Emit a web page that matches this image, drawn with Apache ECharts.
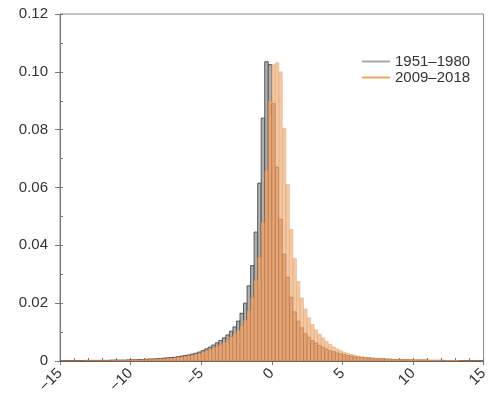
<!DOCTYPE html>
<html>
<head>
<meta charset="utf-8">
<script src="https://cdn.jsdelivr.net/npm/echarts@6/dist/echarts.min.js"></script>
<style>
html,body{margin:0;padding:0;background:#fff;}
#chart{width:491px;height:400px;}
</style>
</head>
<body>
<div id="chart"></div>
<script>
// Histogram bins: start at -15, width 0.25, 120 bins to +15
const binStart = -15;
const binWidth = 0.25;
const seriesNames = ['1951\u20131980', '2009\u20132018'];
const xTickValues = [-15, -10, -5, 0, 5, 10, 15];
const xTickLabels = ['\u221215', '\u221210', '\u22125', '0', '5', '10', '15'];
const yTickValues = [0, 0.02, 0.04, 0.06, 0.08, 0.10, 0.12];
const yTickLabels = ['0', '0.02', '0.04', '0.06', '0.08', '0.10', '0.12'];

const gray1951 = [
  0.0001,0.0001,0.0001,0.0001, 0.0001,0.0001,0.0001,0.0002, 0.0002,0.0002,0.0002,0.0002,
  0.0002,0.0002,0.0003,0.0003, 0.0003,0.0003,0.0003,0.0004, 0.0004,0.0004,0.0005,0.0005,
  0.0006,0.0007,0.0007,0.0008, 0.0009,0.0010,0.0011,0.0012, 0.0013,0.0015,0.0017,0.0019,
  0.0021,0.0024,0.0027,0.0031, 0.0036,0.0042,0.0048,0.0055, 0.0063,0.0071,0.0080,0.0090,
  0.0103,0.0118,0.0138,0.0165, 0.0200,0.0260,0.0330,0.0446, 0.0615,0.0840,0.1035,0.1025,
  0.0890,0.0670,0.0490,0.0370, 0.0290,0.0220,0.0170,0.0138, 0.0115,0.0095,0.0082,0.0071,
  0.0062,0.0054,0.0047,0.0041, 0.0036,0.0032,0.0028,0.0025, 0.0022,0.0019,0.0017,0.0015,
  0.0013,0.0012,0.0011,0.0010, 0.0009,0.0008,0.0007,0.0007, 0.0006,0.0006,0.0005,0.0005,
  0.0004,0.0004,0.0004,0.0004, 0.0003,0.0003,0.0003,0.0003, 0.0002,0.0002,0.0002,0.0002,
  0.0002,0.0001,0.0001,0.0001, 0.0001,0.0001,0.0001,0.0001, 0.0001,0.0001,0.0001,0.0001
];

const orange2009 = [
  0.0001,0.0001,0.0001,0.0001, 0.0001,0.0001,0.0001,0.0002, 0.0002,0.0002,0.0002,0.0002,
  0.0002,0.0002,0.0002,0.0003, 0.0003,0.0003,0.0003,0.0003, 0.0004,0.0004,0.0004,0.0005,
  0.0005,0.0006,0.0006,0.0007, 0.0008,0.0008,0.0009,0.0010, 0.0011,0.0013,0.0014,0.0016,
  0.0018,0.0020,0.0023,0.0026, 0.0032,0.0036,0.0041,0.0046, 0.0052,0.0058,0.0065,0.0074,
  0.0084,0.0094,0.0106,0.0122, 0.0143,0.0175,0.0220,0.0280, 0.0360,0.0480,0.0660,0.0900,
  0.1025,0.1032,0.1000,0.0805, 0.0610,0.0455,0.0355,0.0275, 0.0218,0.0180,0.0150,0.0127,
  0.0108,0.0093,0.0080,0.0068, 0.0058,0.0049,0.0042,0.0036, 0.0031,0.0027,0.0023,0.0020,
  0.0017,0.0015,0.0013,0.0012, 0.0011,0.0010,0.0009,0.0008, 0.0007,0.0007,0.0006,0.0006,
  0.0005,0.0005,0.0005,0.0005, 0.0004,0.0004,0.0004,0.0004, 0.0003,0.0003,0.0003,0.0003,
  0.0002,0.0002,0.0002,0.0002, 0.0002,0.0001,0.0001,0.0001, 0.0001,0.0001,0.0001,0.0001
];

const grayRows = gray1951.map((v, i) => [binStart + i * binWidth, binStart + (i + 1) * binWidth, v]);
const orangeRows = orange2009.map((v, i) => [binStart + i * binWidth, binStart + (i + 1) * binWidth, v, gray1951[i]]);

function renderGray(params, api) {
  const p0 = api.coord([api.value(0), api.value(2)]);
  const p1 = api.coord([api.value(1), 0]);
  return {
    type: 'rect',
    shape: { x: p0[0], y: p0[1], width: p1[0] - p0[0], height: p1[1] - p0[1] },
    style: { fill: '#b0b0b0', stroke: '#4a4a4a', lineWidth: 0.9 }
  };
}

function renderOrange(params, api) {
  const x0 = api.value(0), x1 = api.value(1), o = api.value(2), g = api.value(3);
  const low = Math.min(o, g);
  const pTop = api.coord([x0, o]);
  const pLow = api.coord([x0, low]);
  const pBase = api.coord([x1, 0]);
  const w = pBase[0] - pTop[0];
  const children = [{
    type: 'rect',
    shape: { x: pLow[0], y: pLow[1], width: w, height: pBase[1] - pLow[1] },
    style: { fill: 'rgba(235,163,108,0.86)', stroke: 'rgba(200,112,50,0.45)', lineWidth: 0.6 }
  }];
  if (o > g) {
    children.push({
      type: 'rect',
      shape: { x: pTop[0], y: pTop[1], width: w, height: pLow[1] - pTop[1] },
      style: { fill: 'rgba(239,183,135,0.75)', stroke: 'rgba(225,150,95,0.6)', lineWidth: 0.6 }
    });
  }
  return { type: 'group', children: children };
}

const FONT = '"Liberation Sans", Arial, sans-serif';
const chart = echarts.init(document.getElementById('chart'), null, { renderer: 'canvas' });

const xLabelMap = {};
xTickValues.forEach((v, i) => { xLabelMap[v] = xTickLabels[i]; });
const yLabelMap = {};
yTickValues.forEach((v, i) => { yLabelMap[v.toFixed(2)] = yTickLabels[i]; });

chart.setOption({
  animation: false,
  backgroundColor: '#fff',
  grid: { left: 60, right: 7, top: 14, bottom: 39, show: true, borderColor: '#8a8a8a', borderWidth: 1 },
  legend: {
    orient: 'vertical',
    left: 357, top: 49,
    itemWidth: 28, itemHeight: 2, itemGap: 1,
    icon: 'rect',
    textStyle: { fontFamily: FONT, fontSize: 15, color: '#333' },
    data: [
      { name: seriesNames[0], itemStyle: { color: '#a8a8a8', borderWidth: 0 } },
      { name: seriesNames[1], itemStyle: { color: '#f0a468', borderWidth: 0 } }
    ]
  },
  xAxis: [{
    type: 'value', min: -15, max: 15, interval: 5, position: 'bottom',
    axisLine: { show: true, onZero: false, lineStyle: { color: '#777', width: 1 } },
    axisTick: { show: true, length: 4, lineStyle: { color: '#777' } },
    splitLine: { show: false },
    axisLabel: {
      rotate: 45, margin: 10, fontFamily: FONT, fontSize: 15, color: '#333',
      formatter: v => xLabelMap[v] !== undefined ? xLabelMap[v] : ''
    }
  }, {
    type: 'value', min: -15, max: 15, interval: 1, position: 'bottom',
    axisLine: { show: false, onZero: false },
    axisTick: { show: true, inside: true, length: 3, lineStyle: { color: '#777' } },
    axisLabel: { show: false }, splitLine: { show: false }
  }],
  yAxis: [{
    type: 'value', min: 0, max: 0.12, interval: 0.02, position: 'left',
    axisLine: { show: true, onZero: false, lineStyle: { color: '#777', width: 1 } },
    axisTick: { show: true, length: 5, lineStyle: { color: '#777' } },
    splitLine: { show: false },
    axisLabel: {
      margin: 12, fontFamily: FONT, fontSize: 15, color: '#333',
      formatter: v => { const k = v.toFixed(2); return yLabelMap[k] !== undefined ? yLabelMap[k] : ''; }
    }
  }, {
    type: 'value', min: 0, max: 0.12, interval: 0.01, position: 'left',
    axisLine: { show: false, onZero: false },
    axisTick: { show: true, inside: true, length: 3, lineStyle: { color: '#777' } },
    axisLabel: { show: false }, splitLine: { show: false }
  }],
  series: [{
    name: seriesNames[0],
    type: 'custom',
    renderItem: renderGray,
    xAxisIndex: 0, yAxisIndex: 0,
    encode: { x: [0, 1], y: 2 },
    itemStyle: { color: '#a8a8a8' },
    data: grayRows
  }, {
    name: seriesNames[1],
    type: 'custom',
    renderItem: renderOrange,
    xAxisIndex: 0, yAxisIndex: 0,
    encode: { x: [0, 1], y: 2 },
    itemStyle: { color: '#f0a468' },
    data: orangeRows
  }]
});
</script>
</body>
</html>
